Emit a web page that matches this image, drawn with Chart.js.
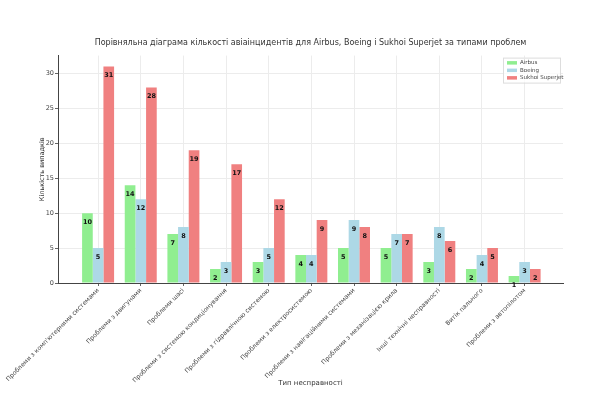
<!DOCTYPE html>
<html>
<head>
<meta charset="utf-8">
<script src="https://cdn.jsdelivr.net/npm/chart.js@4"></script>
<style>
  body { margin: 0; background: #fff; }
  canvas { display: block; }
</style>
</head>
<body>
<canvas id="barChart" width="600" height="400"></canvas>
<script>
// Типи несправностей
const categories = [
  "Проблеми з комп'ютерними системами",
  'Проблеми з двигунами',
  'Проблеми шасі',
  'Проблеми з системою кондиціонування',
  'Проблеми з гідравлічною системою',
  'Проблеми з електросистемою',
  'Проблеми з навігаційними системами',
  'Проблеми з механізацією крила',
  'Інші технічні несправності',
  'Витік пального',
  'Проблеми з автопілотом'
];
const airbus = [10, 14, 7, 2, 3, 4, 5, 5, 3, 2, 1];
const boeing = [5, 12, 8, 3, 5, 4, 9, 7, 8, 4, 3];
const sukhoi = [31, 28, 19, 17, 12, 9, 8, 7, 6, 5, 2];
const yTicks = [0, 5, 10, 15, 20, 25, 30];

const FONT = 'DejaVu Sans';

function toPoints(arr) {
  return arr.map((v, i) => ({ x: i, y: v }));
}

// Підписи значень всередині стовпців
const valueLabels = {
  id: 'valueLabels',
  afterDatasetsDraw(chart) {
    const c = chart.ctx;
    c.save();
    c.font = 'bold 6.5px ' + FONT;
    c.fillStyle = '#111';
    c.textAlign = 'center';
    c.textBaseline = 'middle';
    chart.data.datasets.forEach((ds, di) => {
      chart.getDatasetMeta(di).data.forEach((bar, i) => {
        c.fillText(ds.data[i].y, bar.x, bar.y + 9);
      });
    });
    c.restore();
  }
};

// Легенда в правому верхньому куті області графіка
const innerLegend = {
  id: 'innerLegend',
  afterDraw(chart) {
    const c = chart.ctx;
    const a = chart.chartArea;
    const x0 = a.right - 60, y0 = a.top + 2, w = 57, h = 25;
    c.save();
    c.fillStyle = 'rgba(255,255,255,0.8)';
    c.strokeStyle = '#ddd';
    c.lineWidth = 1;
    c.fillRect(x0, y0, w, h);
    c.strokeRect(x0 + 0.5, y0 + 0.5, w, h);
    c.font = '5.5px ' + FONT;
    c.textBaseline = 'middle';
    chart.data.datasets.forEach((ds, i) => {
      const y = y0 + 5 + i * 7.5;
      c.fillStyle = ds.backgroundColor;
      c.fillRect(x0 + 4, y - 1.5, 10, 3.5);
      c.fillStyle = '#444';
      c.fillText(ds.label, x0 + 17, y);
    });
    c.restore();
  }
};

new Chart(document.getElementById('barChart'), {
  type: 'bar',
  data: {
    datasets: [
      { label: 'Airbus', data: toPoints(airbus), backgroundColor: '#90ee90' },
      { label: 'Boeing', data: toPoints(boeing), backgroundColor: '#add8e6' },
      { label: 'Sukhoi Superjet', data: toPoints(sukhoi), backgroundColor: '#f08080' }
    ]
  },
  plugins: [valueLabels, innerLegend],
  options: {
    responsive: false,
    animation: false,
    categoryPercentage: 0.75,
    barPercentage: 1.0,
    layout: { padding: { left: 0, right: 37, top: 0, bottom: 0 } },
    plugins: {
      legend: { display: false },
      tooltip: { enabled: false },
      title: {
        display: true,
        fullSize: false,
        text: 'Порівняльна діаграма кількості авіаінцидентів для Airbus, Boeing і Sukhoi Superjet за типами проблем',
        color: '#333',
        font: { family: FONT, size: 8, weight: 'normal', lineHeight: 1.2 },
        padding: { top: 38, bottom: 8 }
      }
    },
    scales: {
      x: {
        type: 'linear',
        offset: false,
        min: -0.94,
        max: 10.9,
        afterBuildTicks(s) { s.ticks = categories.map((_, i) => ({ value: i })); },
        afterFit(s) { s.height = 117; s.paddingLeft = 0; s.paddingRight = 0; },
        grid: { offset: false, color: '#ececec', tickColor: '#666', tickLength: 3 },
        border: { color: '#444', width: 1 },
        ticks: {
          minRotation: 45,
          maxRotation: 45,
          autoSkip: false,
          padding: 1,
          color: '#444',
          font: { family: FONT, size: 6.2 },
          callback: (v) => categories[v] ?? ''
        },
        title: {
          display: true,
          text: 'Тип несправності',
          color: '#333',
          font: { family: FONT, size: 7 },
          padding: { top: 0, bottom: 13 }
        }
      },
      y: {
        min: 0,
        max: 32.55,
        afterBuildTicks(s) { s.ticks = yTicks.map(v => ({ value: v })); },
        afterFit(s) { s.width = 58; s.paddingTop = 0; s.paddingBottom = 0; },
        grid: { color: '#ececec', tickColor: '#666', tickLength: 3 },
        border: { color: '#444', width: 1 },
        ticks: {
          color: '#444',
          padding: 1,
          font: { family: FONT, size: 6.5 }
        },
        title: {
          display: true,
          text: 'Кількість випадків',
          color: '#333',
          font: { family: FONT, size: 6.5 },
          padding: { top: 38, bottom: 0 }
        }
      }
    }
  }
});
</script>
</body>
</html>
